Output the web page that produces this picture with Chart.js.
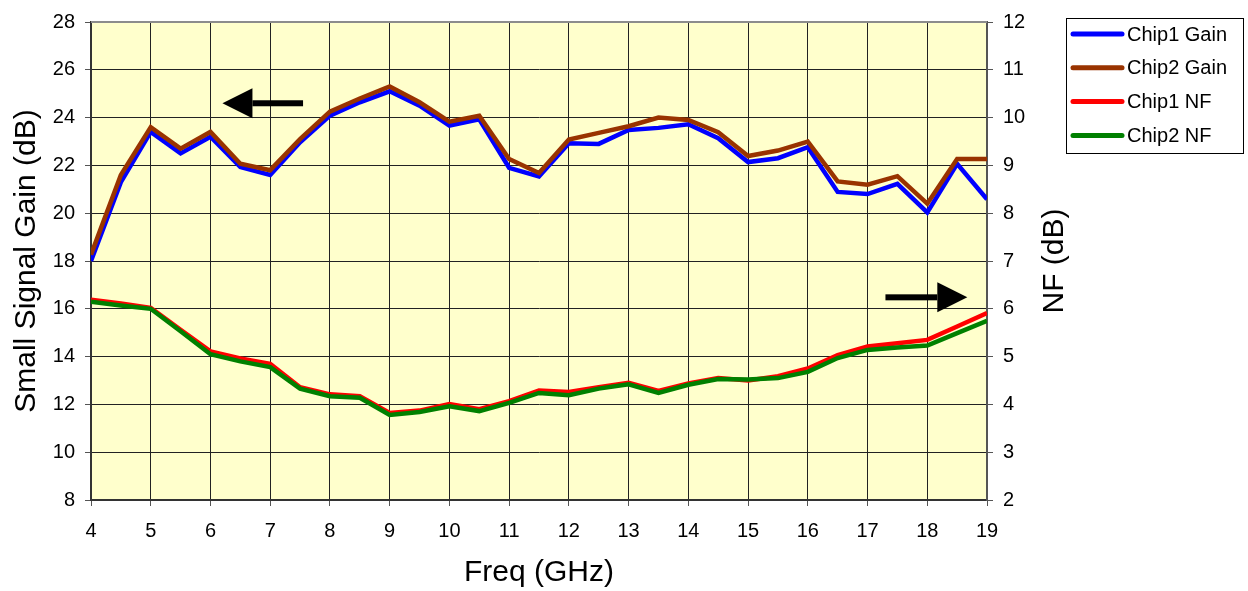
<!DOCTYPE html>
<html>
<head>
<meta charset="utf-8">
<script src="https://cdn.jsdelivr.net/npm/chart.js@4.4.1/dist/chart.umd.min.js"></script>
<style>
  html, body { margin: 0; padding: 0; background: #fff; }
  #wrap { width: 1248px; height: 591px; position: relative; }
</style>
</head>
<body>
<div id="wrap"><canvas id="myChart"></canvas></div>
<script>
// frequency points, GHz
const freqs = [4, 4.5, 5, 5.5, 6, 6.5, 7, 7.5, 8, 8.5, 9, 9.5, 10, 10.5, 11, 11.5,
  12, 12.5, 13, 13.5, 14, 14.5, 15, 15.5, 16, 16.5, 17, 17.5, 18, 18.5, 19];

// small signal gain, dB (left axis)
const chip1Gain = [18.0, 21.3, 23.4, 22.5, 23.2, 21.93, 21.6, 22.97, 24.08, 24.64, 25.1,
  24.5, 23.67, 23.93, 21.9, 21.54, 22.93, 22.9, 23.48, 23.57, 23.72, 23.14, 22.14, 22.3,
  22.76, 20.89, 20.8, 21.23, 20.03, 22.07, 20.58];
const chip2Gain = [18.26, 21.6, 23.6, 22.7, 23.4, 22.07, 21.8, 23.1, 24.25, 24.8, 25.3,
  24.64, 23.83, 24.08, 22.27, 21.68, 23.08, 23.36, 23.64, 24.0, 23.9, 23.39, 22.39, 22.62,
  23.0, 21.33, 21.19, 21.55, 20.4, 22.27, 22.27];

// noise figure, dB (right axis)
const chip1NF = [6.19, 6.11, 6.02, 5.56, 5.11, 4.96, 4.85, 4.36, 4.21, 4.17, 3.82,
  3.87, 4.01, 3.9, 4.07, 4.29, 4.26, 4.36, 4.45, 4.28, 4.44, 4.55, 4.5, 4.59,
  4.75, 5.03, 5.21, 5.28, 5.35, 5.63, 5.91];
const chip2NF = [6.15, 6.07, 6.0, 5.53, 5.05, 4.9, 4.78, 4.33, 4.17, 4.14, 3.78,
  3.84, 3.96, 3.86, 4.03, 4.24, 4.19, 4.33, 4.42, 4.24, 4.41, 4.53, 4.52, 4.55,
  4.68, 4.97, 5.14, 5.19, 5.23, 5.49, 5.75];

const seriesNames = ["Chip1 Gain", "Chip2 Gain", "Chip1 NF", "Chip2 NF"];
const seriesColors = ["#0000FF", "#993300", "#FF0000", "#008000"];

const FONT = "'Liberation Sans', Arial, sans-serif";

const toPoints = (ys) => ys.map((y, i) => ({ x: freqs[i], y: y }));

const ctx = document.getElementById("myChart");

// yellow plot background + top edge
const plotBg = {
  id: "plotBg",
  beforeDraw(chart) {
    const { ctx, chartArea: a } = chart;
    ctx.save();
    ctx.fillStyle = "#FFFFCC";
    ctx.fillRect(a.left, a.top, a.right - a.left, a.bottom - a.top);
    ctx.restore();
  },
  afterDatasetsDraw(chart) {
    const { ctx, chartArea: a } = chart;
    ctx.save();
    ctx.strokeStyle = "#8c8c8c";
    ctx.lineWidth = 2;
    ctx.beginPath();
    ctx.moveTo(a.left, a.top);
    ctx.lineTo(a.right, a.top);
    ctx.stroke();
    ctx.restore();
  }
};

// the two arrows pointing to each axis, NF title on the right, and the boxed legend
const extras = {
  id: "extras",
  afterDraw(chart) {
    const { ctx, scales } = chart;
    const xs = scales.x;

    function arrow(x0, x1, y) {
      const dir = Math.sign(x1 - x0);
      const head = 30, half = 15, shaft = 6;
      ctx.fillStyle = "#000";
      ctx.fillRect(Math.min(x0, x1 - dir * head), y - shaft / 2, Math.abs(x1 - dir * head - x0), shaft);
      ctx.beginPath();
      ctx.moveTo(x1, y);
      ctx.lineTo(x1 - dir * head, y - half);
      ctx.lineTo(x1 - dir * head, y + half);
      ctx.closePath();
      ctx.fill();
    }
    ctx.save();
    arrow(xs.getPixelForValue(7.55), xs.getPixelForValue(6.2), scales.y.getPixelForValue(24.6));
    arrow(xs.getPixelForValue(17.3), xs.getPixelForValue(18.67), scales.y1.getPixelForValue(6.24));

    // right axis title, reads bottom to top like the left one
    ctx.translate(1055, (chart.chartArea.top + chart.chartArea.bottom) / 2);
    ctx.rotate(-Math.PI / 2);
    ctx.fillStyle = "#000";
    ctx.font = "30px " + FONT;
    ctx.textAlign = "center";
    ctx.textBaseline = "middle";
    ctx.fillText("NF (dB)", 0, 0);
    ctx.restore();

    // legend
    ctx.save();
    ctx.strokeStyle = "#000";
    ctx.lineWidth = 1;
    ctx.strokeRect(1066.5, 18.5, 177, 135);
    ctx.font = "20px " + FONT;
    ctx.textBaseline = "middle";
    ctx.textAlign = "left";
    chart.data.datasets.forEach((ds, i) => {
      const y = 34 + i * 33.8;
      ctx.strokeStyle = ds.borderColor;
      ctx.lineWidth = 5;
      ctx.lineCap = "round";
      ctx.beginPath();
      ctx.moveTo(1073, y);
      ctx.lineTo(1122, y);
      ctx.stroke();
      ctx.fillStyle = "#000";
      ctx.fillText(ds.label, 1127, y + 1);
    });
    ctx.restore();
  }
};

const myChart = new Chart(ctx, {
  type: "line",
  data: {
    datasets: [
      { label: seriesNames[0], data: toPoints(chip1Gain), yAxisID: "y", borderColor: seriesColors[0], order: 4 },
      { label: seriesNames[1], data: toPoints(chip2Gain), yAxisID: "y", borderColor: seriesColors[1], order: 3 },
      { label: seriesNames[2], data: toPoints(chip1NF), yAxisID: "y1", borderColor: seriesColors[2], order: 2 },
      { label: seriesNames[3], data: toPoints(chip2NF), yAxisID: "y1", borderColor: seriesColors[3], order: 1 }
    ]
  },
  plugins: [plotBg, extras],
  options: {
    responsive: true,
    maintainAspectRatio: false,
    animation: false,
    elements: {
      line: { borderWidth: 4.5, tension: 0, borderJoinStyle: "miter" },
      point: { radius: 0, hoverRadius: 0 }
    },
    layout: {
      padding: { left: 0, right: 201, top: 19, bottom: 0 }
    },
    plugins: {
      legend: { display: false },
      tooltip: { enabled: false }
    },
    scales: {
      x: {
        type: "linear",
        min: 4,
        max: 19,
        afterFit(scale) { scale.height = 91; },
        ticks: {
          stepSize: 1,
          padding: 13,
          color: "#000",
          font: { family: FONT, size: 20 }
        },
        grid: { color: "#222", lineWidth: 1, tickLength: 6, tickColor: "#555" },
        border: { color: "#333", width: 2 },
        title: {
          display: true,
          text: "Freq (GHz)",
          color: "#000",
          font: { family: FONT, size: 30 },
          padding: { top: 0, bottom: 0 }
        }
      },
      y: {
        position: "left",
        min: 8,
        max: 28,
        afterFit(scale) { scale.width = 91; },
        ticks: {
          stepSize: 2,
          padding: 10,
          color: "#000",
          font: { family: FONT, size: 20 }
        },
        grid: { color: "#222", lineWidth: 1, tickLength: 6, tickColor: "#555" },
        border: { color: "#333", width: 2 },
        title: {
          display: true,
          text: "Small Signal Gain (dB)",
          color: "#000",
          font: { family: FONT, size: 30 },
          padding: { top: 9, bottom: 0 }
        }
      },
      y1: {
        position: "right",
        min: 2,
        max: 12,
        afterFit(scale) { scale.width = 60; },
        ticks: {
          stepSize: 1,
          padding: 10,
          color: "#000",
          font: { family: FONT, size: 20 }
        },
        grid: { drawOnChartArea: false, tickLength: 6, tickColor: "#555" },
        border: { color: "#555", width: 2 }
      }
    }
  }
});
</script>
</body>
</html>
